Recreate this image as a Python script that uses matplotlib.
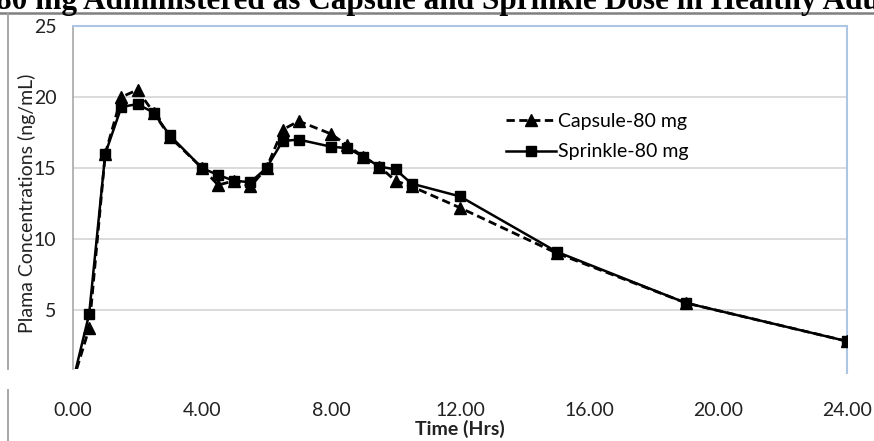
import numpy as np
import matplotlib.pyplot as plt
from matplotlib.lines import Line2D

# sampling times (hrs)
time_hrs = [0, 0.5, 1, 1.5, 2, 2.5, 3, 4, 4.5, 5, 5.5, 6, 6.5, 7, 8, 8.5,
            9, 9.5, 10, 10.5, 12, 15, 19, 24]
# mean plasma concentrations (ng/mL)
capsule_80 = [0, 3.7, 16.0, 20.0, 20.5, 18.9, 17.2, 15.0, 13.8, 14.1, 13.7, 15.0,
              17.7, 18.3, 17.4, 16.6, 15.8, 15.1, 14.1, 13.7, 12.2, 9.0, 5.5, 2.8]
sprinkle_80 = [0, 4.7, 16.0, 19.3, 19.5, 18.9, 17.3, 15.0, 14.5, 14.1, 14.0, 15.0,
               16.9, 17.0, 16.5, 16.4, 15.8, 15.1, 14.9, 13.9, 13.0, 9.1, 5.5, 2.8]
x_ticks = [0, 4, 8, 12, 16, 20, 24]
y_ticks = [5, 10, 15, 20, 25]

W, H = 874, 441
fig = plt.figure(figsize=(W / 100, H / 100), dpi=100)

def fx(px):
    return px / W

def fy(py):
    return 1 - py / H

font = ['Lato', 'DejaVu Sans']

# axes: x 0..24 over px 73..847, y 25 at px 26, cut at px 369
ax = fig.add_axes([fx(73), fy(369), fx(847) - fx(73), fy(26) - fy(369)])
ax.set_xlim(0, 24)
ax.set_ylim(25 - (369 - 26) / 14.2, 25)

ax.plot(time_hrs, capsule_80, color='black', lw=2.0, ls=(0, (3, 1.6)),
        marker='^', ms=9, label='Capsule-80 mg', zorder=3)
ax.plot(time_hrs, sprinkle_80, color='black', lw=1.8, ls='-',
        marker='s', ms=7, label='Sprinkle-80 mg', zorder=3)

ax.set_xticks(x_ticks)
ax.set_xticklabels(['%.2f' % t for t in x_ticks], fontsize=14, family=font)
ax.set_yticks(y_ticks)
ax.set_yticklabels([str(v) for v in y_ticks], fontsize=14, family=font)
ax.tick_params(axis='x', length=0, pad=24, colors='#222222')
ax.tick_params(axis='y', length=0, pad=12, colors='#222222')

ax.grid(axis='y', color='#d4d4d4', lw=1.2)
ax.set_axisbelow(True)
ax.spines['bottom'].set_visible(False)
ax.spines['left'].set_color('#a8a8a8')
ax.spines['left'].set_linewidth(1.2)
for s in ['top', 'right']:
    ax.spines[s].set_color('#adc6e3')
    ax.spines[s].set_linewidth(1.5)
ax.plot([1, 1], [0, -0.012], transform=ax.transAxes, color='#adc6e3',
        lw=1.5, clip_on=False)

ax.legend(loc='upper left', bbox_to_anchor=(fx(496), fy(103)),
          bbox_transform=fig.transFigure, frameon=False, handlelength=2.6,
          handletextpad=0.1, labelspacing=0.7, borderpad=0,
          prop={'family': font, 'size': 14})

# labels
fig.text(fx(27), fy(203), 'Plama Concentrations (ng/mL)', rotation=90,
         ha='center', va='center', fontsize=14, family=font, color='#222222')
fig.text(fx(460), fy(429), 'Time (Hrs)', ha='center', va='center',
         fontsize=14, fontweight='bold', family=font, color='#222222')

# cut-off title at the top
fig.text(fx(-4), fy(9.5), '80 mg Administered as Capsule and Sprinkle Dose in Healthy Adults',
         ha='left', va='baseline', fontsize=22.5, fontweight='bold',
         family=['Liberation Serif', 'DejaVu Serif'])

# outer chart frame pieces
fig.add_artist(Line2D([0, 1], [fy(12.5), fy(12.5)], color='#808080', lw=1.8))
fig.add_artist(Line2D([fx(8), fx(8)], [fy(12.5), fy(369)], color='#a0a0a0', lw=1.3))
fig.add_artist(Line2D([fx(8), fx(8)], [fy(390), 0], color='#a0a0a0', lw=1.3))

fig.savefig('out.png', dpi=100)
